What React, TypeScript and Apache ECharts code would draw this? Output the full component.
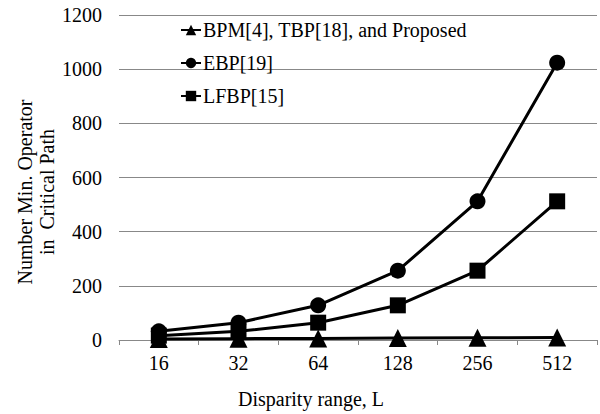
import React, { useEffect, useRef } from "react";
import * as echarts from "echarts";

const categories = ["16", "32", "64", "128", "256", "512"];
const bpmValues = [4, 5, 6, 7, 8, 9];
const ebpValues = [32, 64, 128, 256, 512, 1024];
const lfbpValues = [16, 32, 64, 128, 256, 512];
const seriesNames = ["BPM[4], TBP[18], and Proposed", "EBP[19]", "LFBP[15]"];
const yTitle = "Number Min. Operator\nin  Critical Path";
const xTitle = "Disparity range, L";

const FONT = "Liberation Serif";

export default function App() {
  const ref = useRef<HTMLDivElement>(null);
  useEffect(() => {
    if (!ref.current) return;
    const chart = echarts.init(ref.current, null, { renderer: "svg" });
    const lineStyle = { color: "#000", width: 3 };
    chart.setOption({
      animation: false,
      backgroundColor: "#fff",
      textStyle: { fontFamily: FONT },
      grid: { left: 119, right: 3, top: 15, bottom: 74, containLabel: false },
      legend: {
        orient: "vertical",
        left: 175,
        top: 15,
        itemWidth: 20,
        itemHeight: 13,
        itemGap: 13,
        textStyle: { fontFamily: FONT, fontSize: 20, color: "#000", padding: [0, 0, 0, -3] },
        data: seriesNames,
      },
      xAxis: {
        type: "category",
        data: categories,
        boundaryGap: true,
        axisLine: { lineStyle: { color: "#888", width: 1 } },
        axisTick: { show: true, length: 5, lineStyle: { color: "#888" } },
        axisLabel: { fontFamily: FONT, fontSize: 20, color: "#000", margin: 13 },
      },
      yAxis: {
        type: "value",
        min: 0,
        max: 1200,
        interval: 200,
        axisLine: { show: false },
        axisTick: { show: false },
        splitLine: { lineStyle: { color: "#888", width: 1 } },
        axisLabel: {
          fontFamily: FONT,
          fontSize: 20,
          color: "#000",
          margin: 17,
          formatter: (v: number) => String(v),
        },
      },
      graphic: [
        {
          type: "text",
          x: 36,
          y: 192,
          rotation: Math.PI / 2,
          style: {
            text: yTitle,
            fontFamily: FONT,
            fontSize: 20,
            lineHeight: 22,
            fill: "#000",
            textAlign: "center",
            textVerticalAlign: "middle",
          },
        },
        {
          type: "text",
          x: 311,
          y: 399,
          style: {
            text: xTitle,
            fontFamily: FONT,
            fontSize: 20,
            fill: "#000",
            textAlign: "center",
            textVerticalAlign: "middle",
          },
        },
      ],
      series: [
        {
          name: seriesNames[0],
          type: "line",
          data: bpmValues,
          symbol: "triangle",
          symbolSize: 18,
          lineStyle,
          itemStyle: { color: "#000" },
        },
        {
          name: seriesNames[1],
          type: "line",
          data: ebpValues,
          symbol: "circle",
          symbolSize: 16,
          lineStyle,
          itemStyle: { color: "#000" },
        },
        {
          name: seriesNames[2],
          type: "line",
          data: lfbpValues,
          symbol: "rect",
          symbolSize: 16,
          lineStyle,
          itemStyle: { color: "#000" },
        },
      ],
    });
    return () => chart.dispose();
  }, []);
  return <div ref={ref} style={{ width: 600, height: 414, position: "absolute", left: 0, top: 0 }} />;
}
